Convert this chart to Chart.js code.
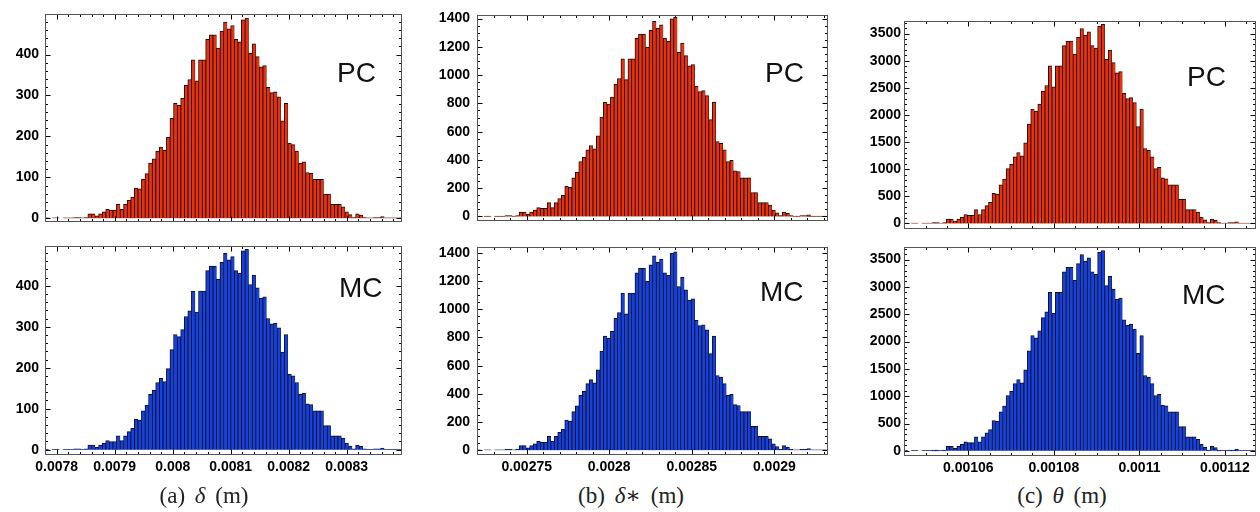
<!DOCTYPE html>
<html><head><meta charset="utf-8">
<script src="https://cdn.jsdelivr.net/npm/chart.js@4.4.1/dist/chart.umd.min.js"></script>
<style>
html,body{margin:0;padding:0;background:#fff;}
#root{position:relative;width:1260px;height:512px;overflow:hidden;background:#fff;}
canvas{position:absolute;}
.tag{position:absolute;font-family:"Liberation Sans",Arial,sans-serif;font-size:28px;line-height:28px;color:#111;white-space:nowrap;}
.cap{position:absolute;font-family:"Liberation Serif","DejaVu Serif",serif;font-size:23px;line-height:24px;color:#222;text-align:center;width:300px;word-spacing:4px;white-space:nowrap;}
</style></head><body><div id="root">
<canvas id="aTop" width="410" height="236" style="left:0px;top:0px"></canvas>
<canvas id="aBot" width="410" height="250" style="left:0px;top:232px"></canvas>
<canvas id="bTop" width="412" height="236" style="left:420px;top:0px"></canvas>
<canvas id="bBot" width="412" height="250" style="left:420px;top:232px"></canvas>
<canvas id="cTop" width="420" height="240" style="left:840px;top:0px"></canvas>
<canvas id="cBot" width="420" height="246" style="left:840px;top:236px"></canvas>
<div class="tag" style="left:337px;top:59px">PC</div>
<div class="tag" style="left:339px;top:274px">MC</div>
<div class="tag" style="left:765px;top:59px">PC</div>
<div class="tag" style="left:760px;top:278px">MC</div>
<div class="tag" style="left:1187px;top:63px">PC</div>
<div class="tag" style="left:1182px;top:281px">MC</div>
<div class="cap" style="left:54px;top:484px">(a) <i>δ</i> (m)</div>
<div class="cap" style="left:481px;top:484px">(b) <i>δ</i>∗ (m)</div>
<div class="cap" style="left:912px;top:484px">(c) <i>θ</i> (m)</div>
</div>
<script>
// ---- data (histogram counts, 100 bins each) ----
const pcDelta = [1,0,1,1,0,1,1,1,2,2,1,2,
11,11,6,11,16,22,20,20,34,22,
34,44,52,74,72,95,109,135,145,164,
174,166,198,244,281,276,293,325,339,387,
336,387,387,437,448,448,416,457,479,463,
471,437,431,485,489,403,426,395,370,373,
320,307,309,297,238,281,184,180,164,135,
138,112,110,95,95,95,59,59,34,34,
34,28,16,9,2,11,8,2,
1,1,2,2,4,1,1,1,1,1];
const mcDelta = [1,0,1,1,0,1,1,1,2,2,1,2,
11,11,6,11,16,22,20,20,34,22,
34,44,52,74,72,95,109,135,145,164,
174,166,198,244,281,276,293,325,339,387,
336,387,387,437,448,448,416,457,479,463,
471,437,431,485,489,403,426,395,370,373,
320,307,309,297,238,281,184,180,164,135,
138,112,110,95,95,95,59,59,34,34,
34,28,16,9,2,11,8,2,
1,1,2,2,4,1,1,1,1,1];
const pcDeltaStar = [3,0,3,3,0,3,3,3,6,6,3,6,
32,32,17,32,46,63,58,58,98,63,
98,127,150,213,207,274,314,389,418,472,
501,478,570,703,809,795,844,936,976,1115,
968,1115,1115,1259,1290,1290,1198,1316,1380,1333,
1356,1259,1241,1397,1408,1161,1227,1138,1066,1074,
922,884,890,855,685,809,530,518,472,389,
397,323,317,274,274,274,170,170,98,98,
98,81,46,26,6,32,23,6,
3,3,6,6,12,3,3,3,3,3];
const mcDeltaStar = [3,0,3,3,0,3,3,3,6,6,3,6,
32,32,17,32,46,63,58,58,98,63,
98,127,150,213,207,274,314,389,418,472,
501,478,570,703,809,795,844,936,976,1115,
968,1115,1115,1259,1290,1290,1198,1316,1380,1333,
1356,1259,1241,1397,1408,1161,1227,1138,1066,1074,
922,884,890,855,685,809,530,518,472,389,
397,323,317,274,274,274,170,170,98,98,
98,81,46,26,6,32,23,6,
3,3,6,6,12,3,3,3,3,3];
const pcTheta = [8,0,8,8,0,8,8,8,15,15,8,15,
83,83,45,83,120,165,150,150,255,165,
255,330,390,555,540,713,818,1013,1088,1230,
1305,1245,1485,1830,2108,2070,2198,2438,2543,2903,
2520,2903,2903,3278,3360,3360,3120,3428,3593,3473,
3533,3278,3233,3638,3668,3023,3195,2963,2775,2798,
2400,2303,2318,2228,1785,2108,1380,1350,1230,1013,
1035,840,825,713,713,713,443,443,255,255,
255,210,120,68,15,83,60,15,
8,8,15,15,30,8,8,8,8,8];
const mcTheta = [8,0,8,8,0,8,8,8,15,15,8,15,
83,83,45,83,120,165,150,150,255,165,
255,330,390,555,540,713,818,1013,1088,1230,
1305,1245,1485,1830,2108,2070,2198,2438,2543,2903,
2520,2903,2903,3278,3360,3360,3120,3428,3593,3473,
3533,3278,3233,3638,3668,3023,3195,2963,2775,2798,
2400,2303,2318,2228,1785,2108,1380,1350,1230,1013,
1035,840,825,713,713,713,443,443,255,255,
255,210,120,68,15,83,60,15,
8,8,15,15,30,8,8,8,8,8];

// ---- tick labels ----
const deltaXTicks = [0.0078, 0.0079, 0.008, 0.0081, 0.0082, 0.0083];
const deltaStarXTicks = [0.00275, 0.0028, 0.00285, 0.0029];
const thetaXTicks = [0.00106, 0.00108, 0.0011, 0.00112];
const deltaYTicks = [0, 100, 200, 300, 400];
const deltaStarYTicks = [0, 200, 400, 600, 800, 1000, 1200, 1400];
const thetaYTicks = [0, 500, 1000, 1500, 2000, 2500, 3000, 3500];

// bin categories
const bins = Array.from({length: pcDelta.length}, (_, i) => String(i));

const RED = '#ee2f0c';
const BLUE = '#1440e8';
const TICK_FONT = {family: "'Liberation Sans', Arial, Helvetica, sans-serif", size: 14, weight: 'bold'};

const framePlugin = {
  id: 'frame',
  afterDatasetsDraw(chart, args, o) {
    const {ctx, chartArea: a} = chart;
    const xs = chart.scales.xt, ys = chart.scales.y;
    const L = Math.round(a.left) + 0.5, R = Math.round(a.right) - 0.5;
    const T = Math.round(a.top) + 0.5, B = Math.round(a.bottom) - 0.5;
    ctx.save();
    ctx.lineWidth = 1;
    ctx.strokeStyle = '#000';
    ctx.beginPath();
    const tickX = (v, len) => { const x = Math.round(xs.getPixelForValue(v)) + 0.5; if (x < L || x > R) return; ctx.moveTo(x, B); ctx.lineTo(x, B - len); ctx.moveTo(x, T); ctx.lineTo(x, T + len); };
    const tickY = (v, len) => { const y = Math.round(ys.getPixelForValue(v)) + 0.5; if (y < T || y > B) return; ctx.moveTo(L, y); ctx.lineTo(L + len, y); ctx.moveTo(R, y); ctx.lineTo(R - len, y); };
    for (let k = Math.ceil(xs.min / o.xMinor - 1e-6); k * o.xMinor <= xs.max; k++) tickX(k * o.xMinor, 2.5);
    for (let k = Math.ceil(ys.min / o.yMinor - 1e-6); k * o.yMinor <= ys.max; k++) tickY(k * o.yMinor, 2.5);
    o.xMajor.forEach(v => tickX(v, 5));
    o.yMajor.forEach(v => tickY(v, 5));
    ctx.stroke();
    ctx.strokeStyle = '#555';
    ctx.strokeRect(L, T, R - L, B - T);
    ctx.restore();
  }
};

function build(id, d) {
  new Chart(document.getElementById(id), {
    type: 'bar',
    data: {
      labels: bins,
      datasets: [{
        data: d.values,
        backgroundColor: d.color,
        borderColor: '#111',
        borderWidth: {left: 1, top: 1, right: 0.5, bottom: 0},
        borderSkipped: false,
        barPercentage: 1,
        categoryPercentage: 1,
        xAxisID: 'x',
        yAxisID: 'y'
      }]
    },
    options: {
      responsive: false,
      animation: false,
      devicePixelRatio: 1,
      layout: {autoPadding: false, padding: d.pad},
      plugins: {
        legend: {display: false},
        tooltip: {enabled: false},
        frame: {xMinor: d.xMinor, yMinor: d.yMinor, xMajor: d.xTicks, yMajor: d.yTicks}
      },
      scales: {
        x: {type: 'category', display: false, offset: true},
        xt: {
          type: 'linear', axis: 'x', position: 'bottom', display: d.showX,
          min: d.xMin, max: d.xMax, offset: false,
          grid: {display: false, drawTicks: false}, border: {display: false},
          ticks: {font: TICK_FONT, color: '#000', padding: 4, maxRotation: 0, autoSkip: false, callback: v => String(v)},
          afterBuildTicks: s => { s.ticks = d.xTicks.map(v => ({value: v})); },
          afterFit: s => { s.height = d.xHeight || 0; }
        },
        y: {
          type: 'linear', position: 'left', min: d.yMin, max: d.yMax,
          grid: {display: false, drawTicks: false}, border: {display: false},
          ticks: {font: TICK_FONT, color: '#000', padding: d.yPad, autoSkip: false, callback: v => String(v)},
          afterBuildTicks: s => { s.ticks = d.yTicks.map(v => ({value: v})); },
          afterFit: s => { s.width = d.yWidth; }
        }
      }
    },
    plugins: [framePlugin]
  });
}

const A = {xMin: 0.0077798, xMax: 0.0083953, xTicks: deltaXTicks, xMinor: 0.00002, yTicks: deltaYTicks, yMinor: 20, yWidth: 45, yPad: 6};
const Bp = {xMin: 0.0027199, xMax: 0.0029325, xTicks: deltaStarXTicks, xMinor: 0.00001, yTicks: deltaStarYTicks, yMinor: 50, yWidth: 57, yPad: 7};
const C = {xMin: 0.00104497, xMax: 0.00112725, xTicks: thetaXTicks, xMinor: 0.000005, yTicks: thetaYTicks, yMinor: 100, yWidth: 64, yPad: 3};

build('aTop', Object.assign({}, A, {values: pcDelta, color: RED, showX: false, yMin: -8, yMax: 498, pad: {left: 0, top: 13, right: 8, bottom: 7}}));
build('aBot', Object.assign({}, A, {values: mcDelta, color: BLUE, showX: true, xHeight: 27, yMin: -13, yMax: 496, pad: {left: 0, top: 4, right: 8, bottom: 0}}));
build('bTop', Object.assign({}, Bp, {values: pcDeltaStar, color: RED, showX: false, yMin: -29, yMax: 1422, pad: {left: 0, top: 15, right: 4, bottom: 7}}));
build('bBot', Object.assign({}, Bp, {values: mcDeltaStar, color: BLUE, showX: true, xHeight: 27, yMin: -34, yMax: 1439, pad: {left: 0, top: 6, right: 4, bottom: 0}}));
build('cTop', Object.assign({}, C, {values: pcTheta, color: RED, showX: false, yMin: -94, yMax: 3731, pad: {left: 0, top: 21, right: 4, bottom: 4}}));
build('cBot', Object.assign({}, C, {values: mcTheta, color: BLUE, showX: true, xHeight: 26, yMin: -94, yMax: 3724, pad: {left: 0, top: 4, right: 4, bottom: 0}}));
</script>
</body></html>
